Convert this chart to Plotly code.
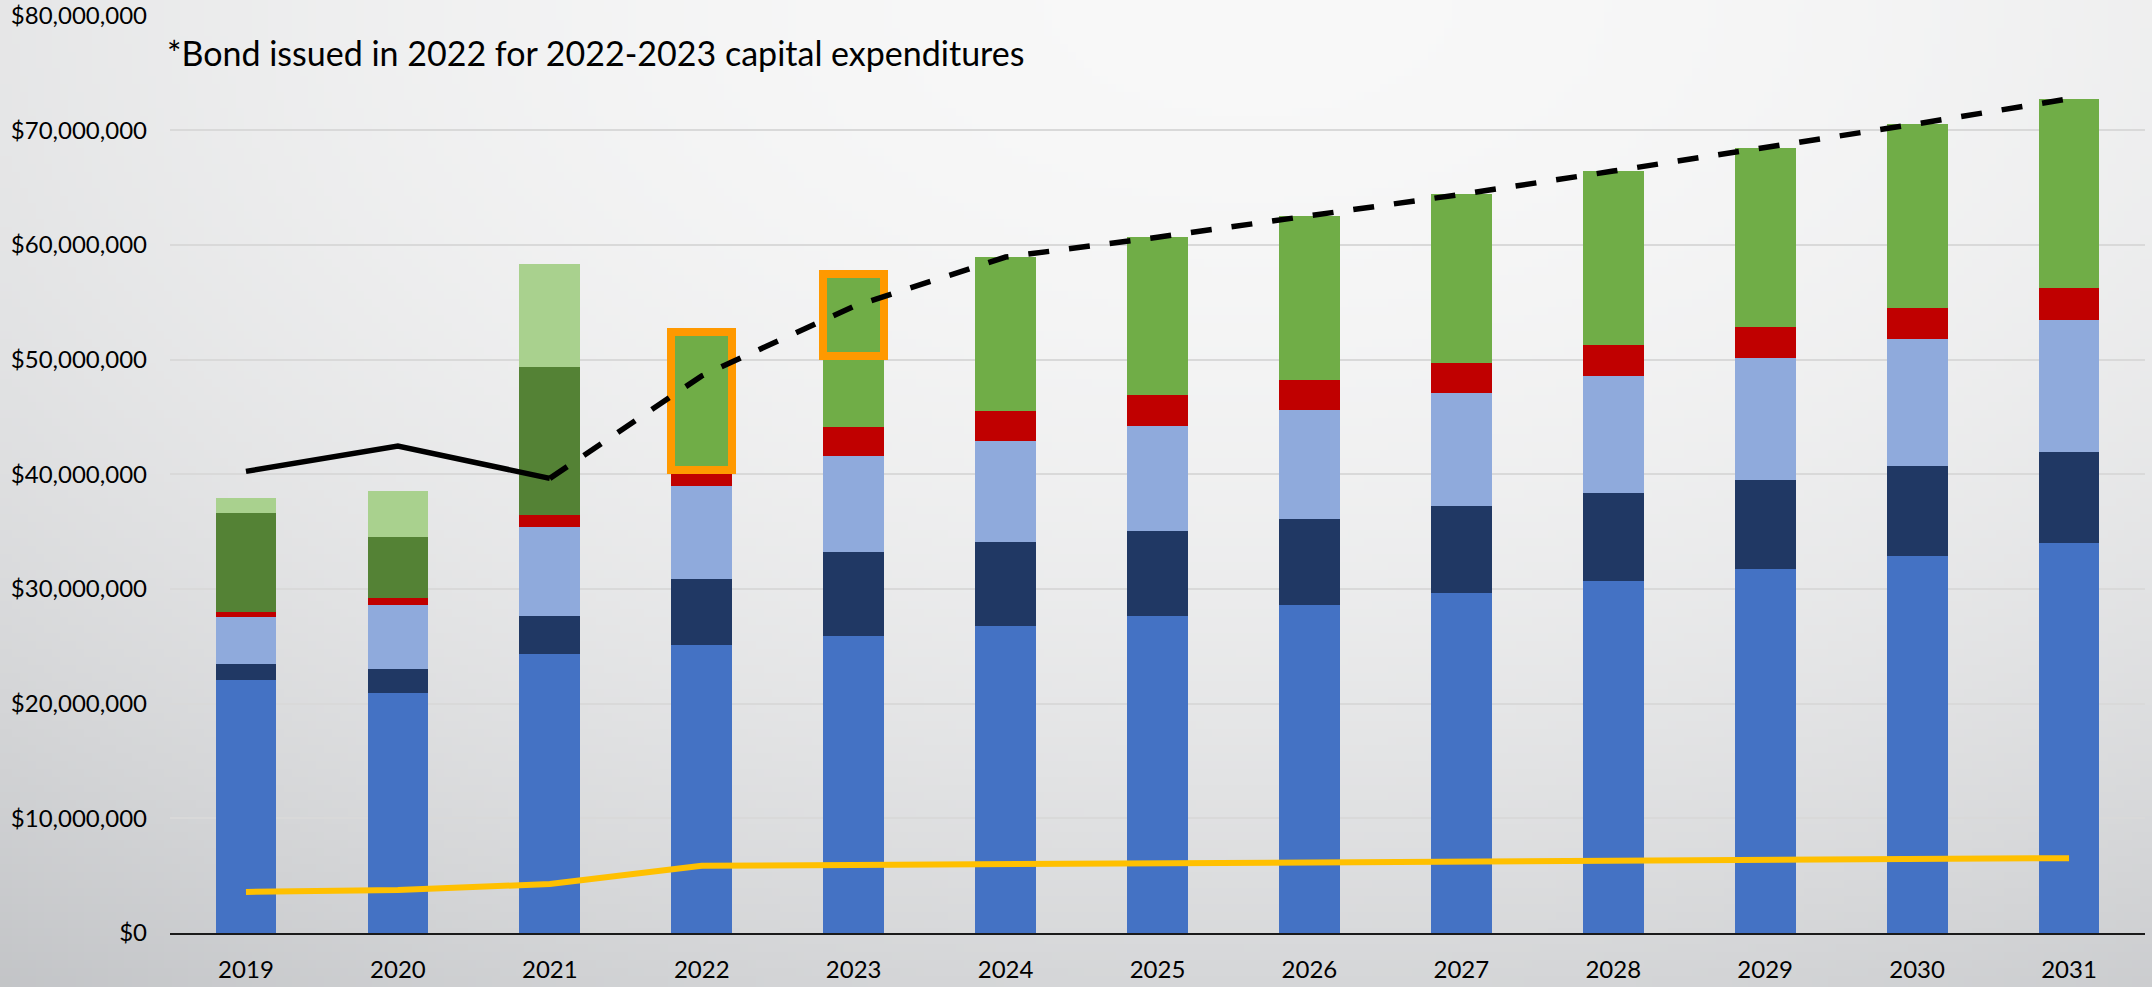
import base64
import struct
import zlib

import plotly.graph_objects as go

# ---------------- data (millions of dollars) ----------------
years = ["2019", "2020", "2021", "2022", "2023", "2024", "2025",
         "2026", "2027", "2028", "2029", "2030", "2031"]

seg_blue = [22.04, 20.96, 24.36, 25.14, 25.90, 26.77, 27.68, 28.61, 29.65, 30.70, 31.74, 32.89, 34.05]
seg_navy = [1.45, 2.06, 3.26, 5.73, 7.30, 7.33, 7.41, 7.47, 7.58, 7.63, 7.74, 7.80, 7.90]
seg_lightblue = [4.09, 5.61, 7.81, 8.14, 8.43, 8.83, 9.12, 9.55, 9.89, 10.27, 10.66, 11.09, 11.54]
seg_red = [0.41, 0.61, 1.05, 1.41, 2.53, 2.59, 2.69, 2.64, 2.63, 2.69, 2.74, 2.75, 2.74]
seg_darkgreen = [8.66, 5.32, 12.91, None, None, None, None, None, None, None, None, None, None]
seg_lightgreen = [1.28, 3.99, 8.92, None, None, None, None, None, None, None, None, None, None]
seg_green = [None, None, None, 0.0, 6.14, 13.43, 13.78, 14.28, 14.67, 15.16, 15.60, 16.04, 16.53]
seg_bond = [None, None, None, 11.97, 7.15, None, None, None, None, None, None, None, None]

line_black = [40.26, 42.47, 39.65, 48.59, 54.65, 58.95, 60.68, 62.55, 64.42, 66.45, 68.48, 70.57, 72.76]
line_yellow = [3.58, 3.75, 4.27, 5.87, 5.93, 5.99, 6.10, 6.15, 6.26, 6.32, 6.37, 6.43, 6.53]

y_ticks = [0, 10, 20, 30, 40, 50, 60, 70, 80]
note_text = "*Bond issued in 2022 for 2022-2023 capital expenditures"

M = 1_000_000


def dollars(vals):
    return [None if v is None else v * M for v in vals]


# ---------------- background gradient (generated PNG) ----------------
W, H = 2152, 987


def make_bg_png(w, h):
    raw = bytearray()
    for j in range(h):
        raw.append(0)
        Y = (j + 0.5) / h * H
        for i in range(w):
            X = (i + 0.5) / w * W
            dx = (X - 1250) / 1400
            dy = Y / 800
            t2 = dx * dx + dy * dy
            drop = min(23 * t2, 56)
            v = 248 - drop
            r = int(round(v))
            g = int(round(v + 1.5 * drop / 48))
            b = int(round(v + 4 * drop / 48))
            raw += bytes((max(0, min(255, r)), max(0, min(255, g)), max(0, min(255, b))))

    def chunk(tag, data):
        c = struct.pack(">I", len(data)) + tag + data
        return c + struct.pack(">I", zlib.crc32(tag + data) & 0xFFFFFFFF)

    png = b"\x89PNG\r\n\x1a\n"
    png += chunk(b"IHDR", struct.pack(">IIBBBBB", w, h, 8, 2, 0, 0, 0))
    png += chunk(b"IDAT", zlib.compress(bytes(raw), 9))
    png += chunk(b"IEND", b"")
    return "data:image/png;base64," + base64.b64encode(png).decode()


bg_src = make_bg_png(269, 124)

# ---------------- figure ----------------
fig = go.Figure()

bar_specs = [
    (seg_blue, "#4472C4", None),
    (seg_navy, "#203864", None),
    (seg_lightblue, "#8FAADC", None),
    (seg_red, "#C00000", None),
    (seg_darkgreen, "#548235", None),
    (seg_lightgreen, "#A9D18E", None),
    (seg_green, "#70AD47", None),
    (seg_bond, "#70AD47", "#FF9900"),
]
for vals, color, outline in bar_specs:
    fig.add_trace(go.Bar(
        x=years, y=dollars(vals),
        marker=dict(color=color,
                    line=dict(color=outline if outline else color,
                              width=8 if outline else 0)),
        showlegend=False,
    ))

# black line: solid 2019-2021, dashed 2021-2031
fig.add_trace(go.Scatter(
    x=years[:3], y=dollars(line_black[:3]), mode="lines",
    line=dict(color="#000000", width=5.5), showlegend=False,
))
fig.add_trace(go.Scatter(
    x=years[2:], y=dollars(line_black[2:]), mode="lines",
    line=dict(color="#000000", width=5.5, dash="21px,20px"), showlegend=False,
))
fig.add_trace(go.Scatter(
    x=years, y=dollars(line_yellow), mode="lines",
    line=dict(color="#FFC000", width=6), showlegend=False,
))

fig.add_annotation(
    text=note_text, xref="paper", yref="paper",
    x=165 / W, y=1 - 52 / H, xanchor="left", yanchor="middle",
    showarrow=False, font=dict(family="Lato", size=34, color="#000000"),
)

fig.add_layout_image(dict(
    source=bg_src, xref="paper", yref="paper", x=0, y=1,
    sizex=1, sizey=1, xanchor="left", yanchor="top",
    sizing="stretch", layer="below",
))

fig.update_layout(
    width=W, height=H,
    margin=dict(l=0, r=0, t=0, b=0, autoexpand=False),
    barmode="stack", bargap=0.6,
    paper_bgcolor="#e6e6e6", plot_bgcolor="rgba(0,0,0,0)",
    font=dict(family="Lato", size=24, color="#000000"),
    xaxis=dict(
        domain=[170 / W, 2145 / W], range=[-0.5, 12.5], type="category",
        automargin=False,
        showline=True, linecolor="#1a1a1a", linewidth=2,
        showgrid=False, ticks="", ticklabelstandoff=14,
        tickfont=dict(family="Lato", size=24, color="#000000"),
    ),
    yaxis=dict(
        domain=[1 - 933 / H, 1 - 15.7 / H], range=[0, 80 * M],
        automargin=False,
        tickvals=[v * M for v in y_ticks],
        ticktext=["$" + format(v * M, ",d") for v in y_ticks],
        showgrid=True, gridcolor="#d9d9d9", gridwidth=2,
        zeroline=False, showline=False, ticks="", ticklabelstandoff=22,
        tickfont=dict(family="Lato", size=24, color="#000000"),
    ),
)

fig.write_html("out.html",
               config={"displayModeBar": False},
               post_script="document.body.style.margin='0';document.body.style.overflow='hidden';")
